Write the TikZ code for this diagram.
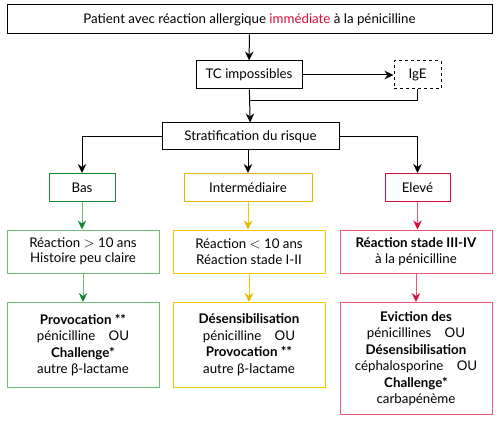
\documentclass[tikz,border=0pt]{standalone}
\usepackage{fontspec}
\setmainfont{Lato}
\usetikzlibrary{arrows,arrows.meta,positioning}
\definecolor{dkgreen}{RGB}{20,135,55}
\definecolor{ltgreen}{RGB}{110,185,120}
\definecolor{dkyellow}{RGB}{230,185,0}
\definecolor{ltyellow}{RGB}{240,200,0}
\definecolor{dkred}{RGB}{215,15,55}
\definecolor{ltred}{RGB}{230,90,115}
\tikzset{
  basic/.style  = {draw, rectangle, line width=1pt, align=center, inner sep=0pt,
                   font=\fontsize{13.3}{16.5}\selectfont},
  top/.style    = {basic, minimum width=485pt, minimum height=29pt},
  small/.style  = {basic, minimum height=28pt},
  level 2/.style = {basic, minimum width=152pt, minimum height=43pt,
                   font=\fontsize{13.3}{15.5}\selectfont},
  level 3/.style = {basic, minimum width=152pt},
  tip/.style    = {-{Stealth[length=9pt,width=8.5pt,inset=3pt,color=#1]}},
}
\begin{document}
\begin{tikzpicture}[x=1pt, y=-1pt, line width=1pt]
\useasboundingbox (0,0) rectangle (500,422);

% tete du schema
\node[top] (patient) at (249.5,19.5)
  {Patient avec réaction allergique \textcolor{dkred}{immédiate} à la pénicilline};
\node[small, minimum width=106pt] (tc) at (249,75) {TC impossibles};
\node[small, minimum width=47pt, dashed] (ige) at (417.5,75) {IgE};
\node[small, minimum width=177pt, minimum height=27pt] (strat) at (250.5,136.5)
  {Stratification du risque};
\coordinate (join) at (249,101);

% niveaux de risque
\node[small, minimum width=66pt, draw=dkgreen] (bas) at (82,187.5) {Bas};
\node[small, minimum width=128pt, draw=dkyellow] (inter) at (248,187.5) {Intermédiaire};
\node[small, minimum width=65pt, draw=dkred] (elev) at (417.5,187.5) {Elevé};

% antecedents
\node[level 2, draw=ltgreen] (r1) at (83,251.5)
  {Réaction $>$ 10 ans\\Histoire peu claire};
\node[level 2, draw=ltyellow] (r2) at (249,251.5)
  {Réaction $<$ 10 ans\\Réaction stade I-II};
\node[level 2, draw=ltred] (r3) at (416,251.5)
  {\textbf{Réaction stade III-IV}\\à la pénicilline};

% conduite a tenir
\node[level 3, minimum height=85pt, draw=ltgreen] (p1) at (83,345)
  {\textbf{Provocation **}\\pénicilline\quad OU\\\textbf{Challenge*}\\autre β-lactame};
\node[level 3, minimum height=85pt, draw=ltyellow] (p2) at (249,345)
  {\textbf{Désensibilisation}\\pénicilline\quad OU\\\textbf{Provocation **}\\autre β-lactame};
\node[level 3, minimum height=112pt, draw=ltred] (p3) at (416,358.5)
  {\textbf{Eviction des}\\pénicillines\quad OU\\\textbf{Désensibilisation}\\céphalosporine\quad OU\\\textbf{Challenge*}\\carbapénème};

\draw[tip=black] (patient) -- (tc);
\draw[tip=black] (tc) -- (ige);
\draw (ige.south) |- (join);
\draw[tip=black] (tc) -- (strat);

\draw[tip=black] (strat.west) -| (bas.north);
\draw[tip=black] (strat.south -| inter.north) -- (inter.north);
\draw[tip=black] (strat.east) -| (elev.north);

\draw[ltgreen, tip=dkgreen] (bas) -- (bas |- r1.north);
\draw[ltyellow, tip=dkyellow] (inter) -- (inter |- r2.north);
\draw[ltred, tip=dkred] (elev) -- (elev |- r3.north);

\draw[ltgreen, tip=dkgreen] (r1) -- (p1);
\draw[ltyellow, tip=dkyellow] (r2) -- (p2);
\draw[ltred, tip=dkred] (r3) -- (p3);
\end{tikzpicture}
\end{document}
